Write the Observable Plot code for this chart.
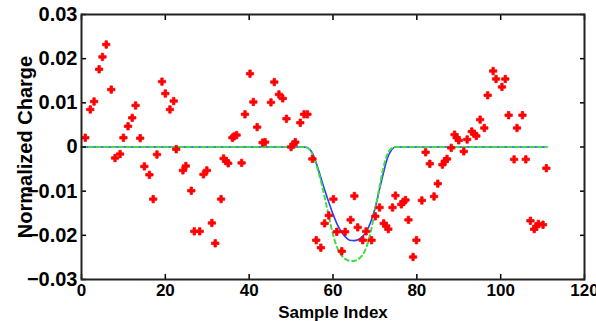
<!DOCTYPE html>
<html>
<head>
<meta charset="utf-8">
<script src="https://cdn.jsdelivr.net/npm/d3@7"></script>
<script src="https://cdn.jsdelivr.net/npm/@observablehq/plot@0.6"></script>
<style>
  html, body { margin: 0; padding: 0; background: #fff; }
  #chart { width: 596px; height: 321px; overflow: hidden; }
</style>
</head>
<body>
<div id="chart"></div>
<script>
// Measured samples (red markers)
const sampleX = [0.9, 2.1, 3.0, 4.2, 5.0, 5.9, 7.1, 8.0, 9.2, 10.0, 11.1, 12.1, 12.9, 14.0, 15.0, 16.2, 17.1, 18.0, 19.2, 20.0,
  21.1, 22.0, 22.6, 24.2, 24.9, 26.2, 26.9, 28.2, 29.1, 29.9, 31.1, 31.9, 33.3, 33.9, 34.5, 35.0, 36.0, 36.4, 37.0, 38.2,
  39.0, 40.2, 41.0, 41.9, 43.2, 43.8, 45.2, 46.0, 47.1, 48.0, 48.9, 50.0, 50.6, 51.0, 52.2, 53.1, 53.9, 55.1, 56.0, 57.1,
  58.0, 59.0, 60.1, 60.9, 62.1, 62.9, 64.2, 65.1, 65.9, 67.1, 67.9, 69.2, 70.1, 71.1, 72.1, 72.7, 73.2, 74.2, 74.9, 76.3,
  76.8, 77.3, 78.0, 79.1, 79.9, 81.2, 82.1, 83.1, 84.1, 85.0, 86.1, 86.7, 87.2, 88.2, 89.0, 89.5, 90.0, 91.2, 92.0, 93.1,
  93.7, 94.2, 95.1, 96.1, 96.9, 98.2, 98.9, 100.3, 101.1, 101.9, 103.2, 103.9, 105.2, 106.0, 107.1, 108.0, 108.5, 109.0, 110.1, 110.9];
const sampleY = [0.0021, 0.0085, 0.0103, 0.0176, 0.0204, 0.0232, 0.0130, -0.0025, -0.0016, 0.0021, 0.0047, 0.0066, 0.0094, 0.0020, -0.0044, -0.0063, -0.0118, -0.0017, 0.0148, 0.0121,
  0.0085, 0.0104, -0.0005, -0.0053, -0.0043, -0.0099, -0.0191, -0.0191, -0.0062, -0.0053, -0.0172, -0.0218, -0.0118, -0.0026, -0.0032, -0.0037, 0.0021, 0.0024, 0.0027, -0.0036,
  0.0074, 0.0166, 0.0102, 0.0045, 0.0010, 0.0011, 0.0101, 0.0147, 0.0119, 0.0110, 0.0064, 0.0000, 0.0006, 0.0011, 0.0055, 0.0074, 0.0074, -0.0027, -0.0211, -0.0228,
  -0.0173, -0.0155, -0.0118, -0.0192, -0.0236, -0.0192, -0.0165, -0.0111, -0.0182, -0.0211, -0.0191, -0.0211, -0.0157, -0.0137, -0.0173, -0.0179, -0.0186, -0.0137, -0.0110, -0.0130,
  -0.0124, -0.0120, -0.0165, -0.0249, -0.0211, -0.0121, -0.0012, -0.0038, -0.0112, -0.0083, -0.0040, -0.0032, -0.0027, -0.0002, 0.0028, 0.0021, 0.0015, -0.0010, 0.0017, 0.0035,
  0.0030, 0.0025, 0.0062, 0.0043, 0.0117, 0.0172, 0.0154, 0.0136, 0.0154, 0.0072, -0.0028, 0.0043, 0.0072, -0.0028, -0.0167, -0.0186, -0.0180, -0.0174, -0.0176, -0.0048];

// Fitted curves
const curveX = [0, 53, 54, 55, 56, 57, 58, 59, 60, 61, 62, 63, 64, 65, 66, 67, 68, 69, 70, 71, 72, 73, 74, 75, 111];
const blueY  = [0, 0, -0.0002, -0.0012, -0.0036, -0.0066, -0.0097, -0.0125, -0.0152, -0.0175, -0.0192, -0.0204, -0.0211, -0.0212, -0.0210, -0.0203, -0.0191, -0.0170, -0.0140, -0.0100, -0.0060, -0.0025, -0.0006, 0, 0];
const greenY = [0, 0, -0.0002, -0.0015, -0.0040, -0.0073, -0.0113, -0.0157, -0.0198, -0.0228, -0.0245, -0.0254, -0.0258, -0.0258, -0.0254, -0.0245, -0.0226, -0.0192, -0.0145, -0.0095, -0.0048, -0.0016, -0.0003, 0, 0];

const xTicks = [0, 20, 40, 60, 80, 100, 120];
const yTicks = [-0.03, -0.02, -0.01, 0, 0.01, 0.02, 0.03];

const samples = sampleX.map((x, i) => ({x, y: sampleY[i]}));
const blue = curveX.map((x, i) => ({x, y: blueY[i]}));
const green = curveX.map((x, i) => ({x, y: greenY[i]}));

const fmtY = d => d === 0 ? "0" : d3.format(".2f")(d);

const chart = Plot.plot({
  width: 596,
  height: 321,
  marginLeft: 81,
  marginRight: 12,
  marginTop: 14,
  marginBottom: 42,
  x: {domain: [0, 120]},
  y: {domain: [-0.03, 0.03]},
  style: {
    fontFamily: "'Liberation Sans', Arial, sans-serif",
    fontWeight: "bold",
    fontSize: "17px",
    background: "#fff",
    color: "#000",
    overflow: "visible"
  },
  marks: [
    Plot.line(blue, {x: "x", y: "y", stroke: "#2a3cff", strokeWidth: 1.6, curve: "monotone-x"}),
    Plot.line(green, {x: "x", y: "y", stroke: "#3fdd3f", strokeWidth: 2, strokeDasharray: "4,3.5", curve: "monotone-x"}),
    Plot.dot(samples, {x: "x", y: "y", symbol: d3.symbolCross, r: 3.1, fill: "#ff0000", stroke: "#ff0000", strokeWidth: 0.8, strokeLinejoin: "round"}),
    Plot.axisX({anchor: "bottom", ticks: xTicks, tickSize: 0, tickPadding: 4, tickFormat: d => String(d),
      label: "Sample Index", labelAnchor: "center", labelArrow: "none", labelOffset: 38}),
    Plot.axisX({anchor: "bottom", ticks: xTicks, tickSize: -5, text: null, label: null, strokeWidth: 1.5}),
    Plot.axisX({anchor: "top", ticks: xTicks, tickSize: -5, text: null, label: null, strokeWidth: 1.5}),
    Plot.axisY({anchor: "left", ticks: yTicks, tickSize: 0, tickPadding: 4, tickFormat: fmtY,
      label: "Normalized Charge", labelAnchor: "center", labelArrow: "none", labelOffset: 64, fontSize: 20}),
    Plot.axisY({anchor: "left", ticks: yTicks, tickSize: -5, text: null, label: null, strokeWidth: 1.5}),
    Plot.axisY({anchor: "right", ticks: yTicks, tickSize: -5, text: null, label: null, strokeWidth: 1.5}),
    Plot.frame({stroke: "#222", strokeWidth: 2})
  ]
});
document.getElementById("chart").appendChild(chart);
</script>
</body>
</html>
